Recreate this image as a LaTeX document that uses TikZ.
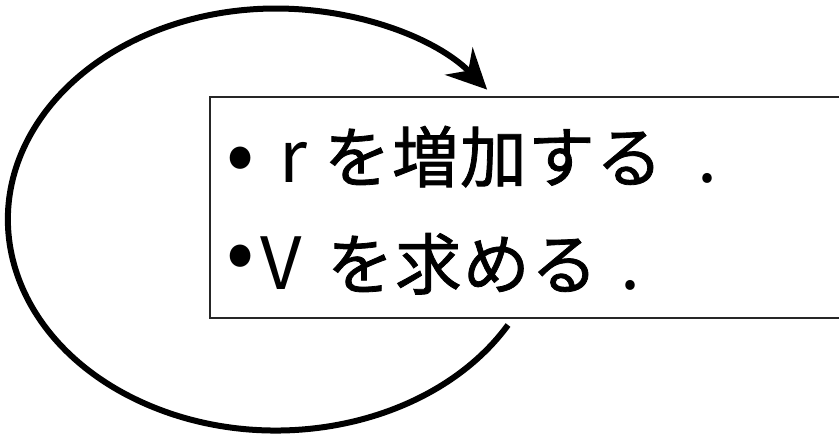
\documentclass[tikz,border=0pt]{standalone}
\usepackage{fontspec}
\newfontfamily\jp[FakeBold=1.2]{Noto Sans CJK JP}
\newfontfamily\jplat{Noto Sans CJK JP}
\usetikzlibrary{arrows.meta}
\tikzset{
  txt/.style={inner sep=0pt, outer sep=0pt, anchor=base west, font=\jp\fontsize{50}{50}\selectfont\addfontfeature{LetterSpace=2}},
  lat/.style={inner sep=0pt, outer sep=0pt, anchor=base west, font=\jplat\fontsize{54}{54}\selectfont},
  bul/.style={inner sep=0pt, outer sep=0pt, anchor=center, font=\jplat\fontsize{62}{62}\selectfont},
  frame/.style={draw=black!85, line width=1pt},
  loop/.style={draw=black, line width=4.5pt, -{Stealth[length=30pt, width=29pt, inset=10pt]}}
}
\begin{document}
\begin{tikzpicture}[x=0.75pt, y=-0.75pt]
\useasboundingbox (0,0) rectangle (839,440);
\begin{scope}
\clip (0,0) rectangle (839,440);
\draw[frame] (210,97) rectangle (850,318);
\end{scope}
% line 1
\node[bul] (b1) at (241,165) {•};
\node[lat] (r) at (279,182) {r};
\node[txt] (t1) at (324,182) {を増加する};
\node[lat] (p1) at (697,182) {.};
% line 2
\node[bul] (b2) at (241,263) {•};
\node[lat] (v) at (260,289) {V};
\node[txt] (t2) at (327,289) {を求める};
\node[lat] (p2) at (620,289) {.};
% loop arrow
\coordinate (s) at (508,325);
\draw[loop] (s) arc[start angle=30, end angle=322, x radius=268, y radius=211];
\end{tikzpicture}
\end{document}
